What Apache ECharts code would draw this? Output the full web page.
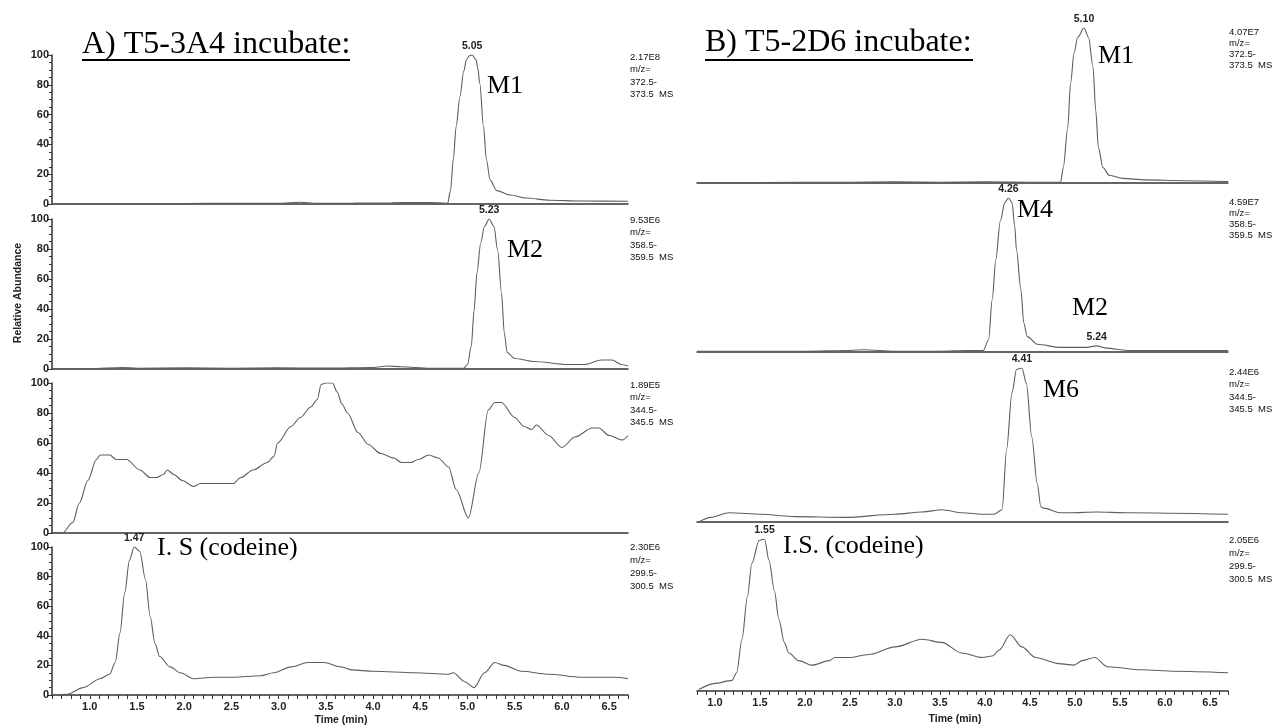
<!DOCTYPE html>
<html><head><meta charset="utf-8">
<script src="https://cdn.jsdelivr.net/npm/echarts@6/dist/echarts.min.js"></script>
<style>html,body{margin:0;padding:0;background:#fff}#c{width:1279px;height:726px}</style>
</head><body><div id="c"></div>
<script>
// ---- data: [time (min), relative abundance (%)] ----
const a3A4_m372 = [[0.6,0],[1.0,0.2],[1.5,0.3],[2.0,0.3],[2.5,0.5],[3.0,0.5],[3.23,1.2],[3.4,0.5],[3.8,0.6],[4.2,0.8],[4.5,1.0],[4.7,0.8],[4.79,0.5],[4.82,9],[4.85,30],[4.88,52],[4.92,72],[4.96,89],[4.99,97],[5.02,99.5],[5.05,100],[5.09,97],[5.11,91],[5.13,81],[5.17,52],[5.2,30],[5.24,16],[5.31,9],[5.45,6],[5.62,4],[5.87,2.5],[6.2,2],[6.7,1.8]];
const a3A4_m358 = [[0.6,0.2],[1.0,0.3],[1.35,1],[1.5,0.5],[2.0,0.8],[2.5,0.5],[3.0,0.8],[3.5,0.6],[4.0,1],[4.15,2],[4.3,1.5],[4.6,0.5],[4.96,0.5],[5.0,3],[5.04,15],[5.07,39],[5.1,64],[5.14,84],[5.18,95],[5.23,100],[5.28,95],[5.32,79],[5.36,51],[5.39,24],[5.42,11],[5.5,7],[5.71,5],[6.06,3],[6.24,3],[6.42,6],[6.53,6],[6.63,3],[6.7,2]];
const a3A4_m344 = [[0.6,0],[0.71,0],[0.82,7],[0.89,20],[0.98,35],[1.07,49],[1.11,52],[1.21,52],[1.28,49],[1.39,49],[1.53,42],[1.64,37],[1.71,37],[1.78,39],[1.82,42],[1.89,39],[1.98,35],[2.1,31],[2.17,33],[2.26,33],[2.35,33],[2.52,33],[2.6,37],[2.73,42],[2.88,47],[2.95,51],[2.99,60],[3.13,71],[3.23,77],[3.34,84],[3.41,89],[3.45,99],[3.5,100],[3.57,100],[3.62,94],[3.67,86],[3.73,80],[3.84,67],[3.95,59],[4.08,53],[4.22,50],[4.3,47],[4.4,47],[4.48,49],[4.59,52],[4.69,50],[4.8,44],[4.88,29],[5.01,10],[5.12,40],[5.22,82],[5.29,87],[5.36,87],[5.5,77],[5.6,71],[5.68,69],[5.73,72],[5.86,65],[6.0,57],[6.14,64],[6.32,70],[6.39,70],[6.5,65],[6.64,62],[6.7,65]];
const a3A4_m299 = [[0.6,0],[0.76,0.5],[0.93,5],[1.11,11],[1.21,14],[1.27,22],[1.32,42],[1.37,69],[1.42,91],[1.47,100],[1.53,97],[1.59,78],[1.64,53],[1.69,35],[1.74,26],[1.85,19],[1.96,15],[2.1,11],[2.31,12],[2.52,12],[2.81,13],[2.95,15],[3.13,19],[3.31,22],[3.48,22],[3.66,19],[3.77,17],[4.01,16],[4.44,15],[4.8,14],[4.85,15],[4.97,9],[5.07,5],[5.18,15],[5.29,22],[5.39,20],[5.57,16],[5.86,14],[6.21,12],[6.56,12],[6.7,11]];
const b2D6_m372 = [[0.8,0],[1.5,0.3],[2.5,0.5],[3.0,0.8],[3.5,0.5],[4.0,0.8],[4.5,0.5],[4.84,0.5],[4.87,10],[4.92,36],[4.95,64],[4.99,84],[5.03,94],[5.1,100],[5.15,94],[5.2,75],[5.23,47],[5.26,23],[5.31,10],[5.38,5],[5.53,3],[5.78,2],[6.2,1.5],[6.7,1]];
const b2D6_m358 = [[0.8,0.5],[1.5,0.5],[2.0,0.5],[2.5,1],[2.65,1.5],[3.0,0.5],[3.5,0.5],[3.8,1],[3.98,1],[4.04,8],[4.08,34],[4.12,60],[4.17,85],[4.22,97],[4.26,100],[4.3,97],[4.33,82],[4.35,66],[4.4,40],[4.43,19],[4.47,10],[4.58,5],[4.84,3],[5.13,3],[5.24,4],[5.35,2.5],[5.58,1],[6.0,1],[6.7,1]];
const b2D6_m344 = [[0.82,0],[0.95,3],[1.16,6],[1.52,5],[1.89,3.5],[2.44,3],[3.0,5],[3.3,6.5],[3.52,8],[3.75,6],[3.97,5],[4.1,5],[4.19,8],[4.24,47],[4.3,84],[4.35,99],[4.41,100],[4.46,90],[4.52,55],[4.58,25],[4.62,10],[4.65,9],[4.84,6],[4.95,6],[5.24,6.5],[5.58,6],[6.7,5]];
const b2D6_m299 = [[0.82,1],[1.0,5],[1.19,7],[1.24,12],[1.3,34],[1.36,62],[1.41,84],[1.49,99],[1.55,100],[1.6,86],[1.66,66],[1.71,47],[1.77,32],[1.82,25],[1.93,20],[2.08,17],[2.27,20],[2.33,22],[2.49,22],[2.71,24],[3.0,29],[3.3,34],[3.52,32],[3.74,25],[3.97,22],[4.08,23],[4.16,27],[4.28,37],[4.41,29],[4.56,22],[4.82,18],[4.99,17],[5.08,20],[5.22,22],[5.36,16],[5.74,14],[6.11,13],[6.7,12]];

const xTickLabels = ['1.0','1.5','2.0','2.5','3.0','3.5','4.0','4.5','5.0','5.5','6.0','6.5'];
const peakLabels = [[['5.05',5.05,100]],[['5.23',5.23,100]],[],[['1.47',1.47,100]],[['5.10',5.10,100]],[['4.26',4.26,100],['5.24',5.24,4]],[['4.41',4.41,100]],[['1.55',1.55,100]]];
const intensityLabels = ['2.17E8','9.53E6','1.89E5','2.30E6','4.07E7','4.59E7','2.44E6','2.05E6'];
const mzLow = ['372.5-','358.5-','344.5-','299.5-','372.5-','358.5-','344.5-','299.5-'];
const mzHigh = ['373.5','359.5','345.5','300.5','373.5','359.5','345.5','300.5'];
const panelTitles = ['A) T5-3A4 incubate:','B) T5-2D6 incubate:'];
const compoundLabels = ['M1','M2','I. S (codeine)','M1','M4','M2','M6','I.S. (codeine)'];

// ---- layout ----
const traces = [a3A4_m372,a3A4_m358,a3A4_m344,a3A4_m299,b2D6_m372,b2D6_m358,b2D6_m344,b2D6_m299];
const L = {left:52, width:576, min:0.6, max:6.7};
const R = {left:697, width:531, min:0.8, max:6.7};
const layout = [
  {col:L, top:55, height:149, bottom:false, yaxis:true, info:[630,57,12.5]},
  {col:L, top:219, height:150, bottom:false, yaxis:true, info:[630,220,12.5]},
  {col:L, top:383, height:150, bottom:false, yaxis:true, info:[630,385,12.5]},
  {col:L, top:547, height:148, bottom:true, yaxis:true, info:[630,547,13]},
  {col:R, top:28, height:155, bottom:false, yaxis:false, info:[1229,32,11]},
  {col:R, top:198, height:154, bottom:false, yaxis:false, info:[1229,202,11]},
  {col:R, top:368, height:154, bottom:false, yaxis:false, info:[1229,372,12.5]},
  {col:R, top:539, height:152, bottom:true, yaxis:false, info:[1229,540,13]}
];
const sans = '"Liberation Sans", Arial, sans-serif';
const serif = '"Liberation Serif", "Times New Roman", serif';
const axisCol = '#333';
const lineCol = '#5e5e5e';

const grids=[], xAxes=[], yAxes=[], series=[];
layout.forEach((p,i)=>{
  grids.push({left:p.col.left, top:p.top, width:p.col.width, height:p.height, containLabel:false});
  xAxes.push({
    type:'value', gridIndex:i, min:p.col.min, max:p.col.max,
    interval: p.bottom ? 0.1 : undefined,
    axisLine:{show:true, onZero:false, lineStyle:{color:axisCol, width:1.5}},
    axisTick:{show:p.bottom, length:4, lineStyle:{color:axisCol, width:1}},
    axisLabel:{show:p.bottom, fontFamily:sans, fontSize:11, fontWeight:'bold', color:'#222', margin:6,
      formatter:v=>{const s=v.toFixed(1); return xTickLabels.includes(s)?s:'';}},
    splitLine:{show:false}
  });
  yAxes.push({
    type:'value', gridIndex:i, min:0, max:100, interval:20, show:p.yaxis,
    axisLine:{show:true, lineStyle:{color:axisCol, width:1.5}},
    axisTick:{show:true, length:5, lineStyle:{color:axisCol}},
    minorTick:{show:true, splitNumber:4, length:3, lineStyle:{color:axisCol}},
    axisLabel:{fontFamily:sans, fontSize:11, fontWeight:'bold', color:'#222', margin:3},
    splitLine:{show:false}
  });
  series.push({
    type:'line', xAxisIndex:i, yAxisIndex:i, data:traces[i], showSymbol:false, smooth:0.3, smoothMonotone:'x',
    lineStyle:{color:lineCol, width:1.1}, silent:true, animation:false,
    markPoint:{symbol:'circle', symbolSize:1, itemStyle:{color:'rgba(0,0,0,0)'}, silent:true, animation:false,
      label:{show:true, position:'top', distance:3, formatter:'{b}', fontFamily:sans, fontSize:10.5, fontWeight:'bold', color:'#222'},
      data:peakLabels[i].map(d=>({name:d[0], coord:[d[1],d[2]]}))}
  });
});

const graphics = [];
layout.forEach((p,i)=>{
  const lh = p.info[2];
  graphics.push({type:'text', left:p.info[0], top:p.info[1]-lh/2, silent:true,
    style:{text:intensityLabels[i]+'\nm/z=\n'+mzLow[i]+'\n'+mzHigh[i]+'  MS', font:'9.5px '+sans, fill:'#111', lineHeight:lh}});
});
const titlePos = [[82,45,268],[705,43,268]];
titlePos.forEach((t,i)=>{
  graphics.push({type:'text', x:t[0], y:t[1], silent:true, style:{text:panelTitles[i], font:'32px '+serif, fill:'#000', verticalAlign:'middle', align:'left'}});
  graphics.push({type:'line', silent:true, shape:{x1:t[0], y1:60, x2:t[0]+t[2], y2:60}, style:{stroke:'#000', lineWidth:2}});
});
const annPos = [[487,86],[507,250],[157,548],[1098,56],[1017,210],[1072,308],[1043,390],[783,546]];
annPos.forEach((a,i)=>{
  graphics.push({type:'text', x:a[0], y:a[1], silent:true, style:{text:compoundLabels[i], font:'26px '+serif, fill:'#000', verticalAlign:'middle', align:'left'}});
});
graphics.push({type:'text', x:18, y:293, rotation:Math.PI/2, silent:true, style:{text:'Relative Abundance', font:'bold 10.5px '+sans, fill:'#222', align:'center', verticalAlign:'middle'}});
graphics.push({type:'text', x:341, y:720, silent:true, style:{text:'Time (min)', font:'bold 10.5px '+sans, fill:'#222', align:'center', verticalAlign:'middle'}});
graphics.push({type:'text', x:955, y:719, silent:true, style:{text:'Time (min)', font:'bold 10.5px '+sans, fill:'#222', align:'center', verticalAlign:'middle'}});

const chart = echarts.init(document.getElementById('c'), null, {renderer:'canvas', devicePixelRatio:1});
chart.setOption({
  animation:false, backgroundColor:'#fff',
  grid:grids, xAxis:xAxes, yAxis:yAxes, series:series, graphic:graphics
});
</script></body></html>
